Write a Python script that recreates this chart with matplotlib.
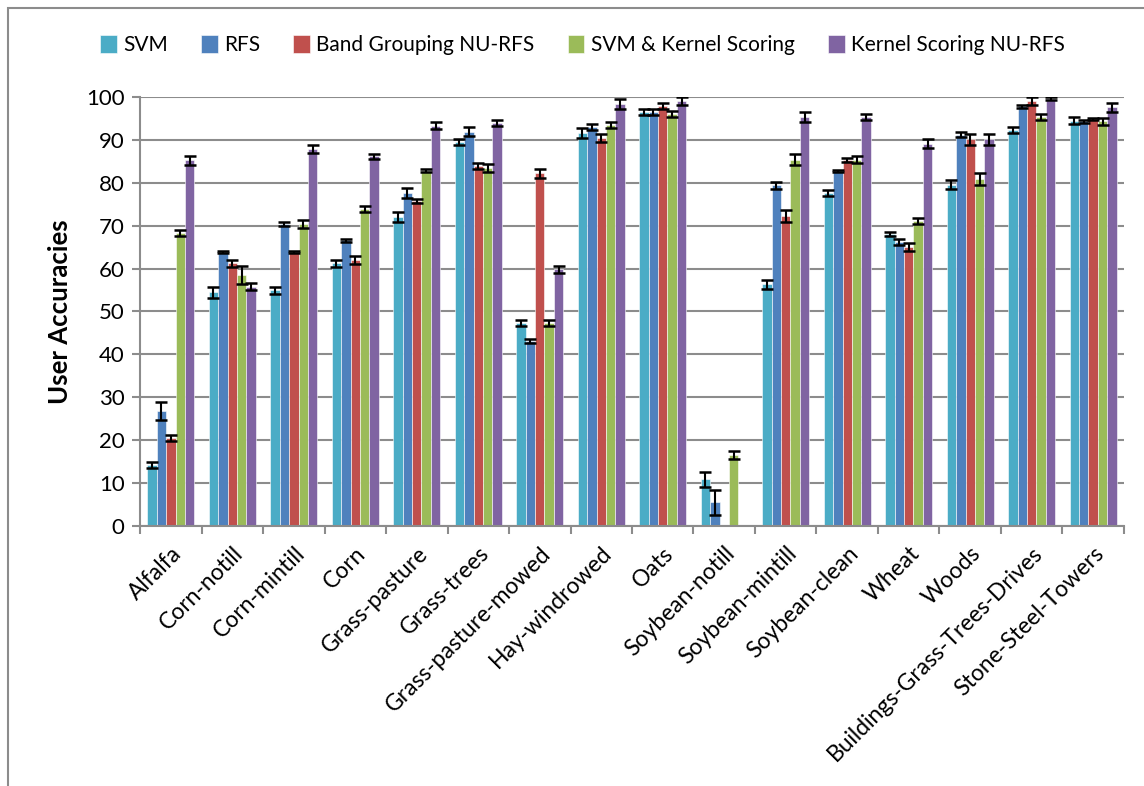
import numpy as np
import matplotlib
matplotlib.use('Agg')
import matplotlib.pyplot as plt
from matplotlib.patches import Rectangle

plt.rcParams['font.family'] = ['Lato', 'DejaVu Sans']

classes = ['Alfalfa', 'Corn-notill', 'Corn-mintill', 'Corn', 'Grass-pasture',
           'Grass-trees', 'Grass-pasture-mowed', 'Hay-windrowed', 'Oats',
           'Soybean-notill', 'Soybean-mintill', 'Soybean-clean', 'Wheat',
           'Woods', 'Buildings-Grass-Trees-Drives', 'Stone-Steel-Towers']

svm = [14.3, 54.5, 54.9, 61.2, 72.0, 89.4, 47.4, 91.6, 96.4, 10.9, 56.3, 77.7, 68.0, 79.6, 92.2, 94.5]
svm_err = [0.7, 1.3, 0.9, 0.9, 1.1, 0.7, 0.7, 1.1, 0.7, 1.7, 1.0, 0.7, 0.5, 1.1, 0.7, 0.9]

rfs = [26.8, 63.9, 70.4, 66.6, 77.7, 91.9, 43.1, 93.0, 96.4, 5.5, 79.4, 82.7, 66.2, 91.2, 97.8, 94.3]
rfs_err = [2.0, 0.3, 0.4, 0.3, 1.2, 1.0, 0.4, 0.7, 0.7, 2.9, 0.8, 0.3, 0.7, 0.6, 0.3, 0.3]

bg_nurfs = [20.6, 61.2, 63.9, 62.0, 75.7, 84.0, 82.2, 90.5, 98.0, 0.0, 72.2, 85.3, 65.1, 90.1, 99.0, 94.9]
bg_nurfs_err = [0.7, 0.8, 0.3, 0.9, 0.5, 0.7, 1.0, 0.9, 0.7, 0.0, 1.4, 0.4, 0.9, 1.3, 0.9, 0.3]

svm_ks = [68.3, 58.5, 70.4, 73.8, 82.8, 83.4, 47.4, 93.5, 96.1, 16.5, 85.4, 85.4, 71.1, 80.8, 95.3, 94.3]
svm_ks_err = [0.6, 2.0, 1.0, 0.7, 0.3, 1.0, 0.7, 0.7, 0.7, 0.9, 1.2, 0.9, 0.7, 1.4, 0.7, 0.8]

ks_nurfs = [85.2, 55.8, 87.9, 86.2, 93.3, 94.0, 59.8, 98.4, 99.0, 0.0, 95.3, 95.3, 89.1, 90.1, 99.6, 97.6]
ks_nurfs_err = [1.0, 0.9, 0.9, 0.6, 0.8, 0.7, 0.9, 1.2, 0.9, 0.0, 1.1, 0.7, 1.0, 1.3, 0.3, 1.0]

series = [
    ('SVM', svm, svm_err, '#4BACC6'),
    ('RFS', rfs, rfs_err, '#4F81BD'),
    ('Band Grouping NU-RFS', bg_nurfs, bg_nurfs_err, '#C0504D'),
    ('SVM & Kernel Scoring', svm_ks, svm_ks_err, '#9BBB59'),
    ('Kernel Scoring NU-RFS', ks_nurfs, ks_nurfs_err, '#8064A2'),
]

GRID = '#8C8C8C'

fig = plt.figure(figsize=(11.44, 7.86), dpi=100)
# outer chart frame (runs off the right and bottom edges)
fig.patches.append(Rectangle((8 / 1144, -0.1), 1.2, 1 - 8 / 786 + 0.1,
                             transform=fig.transFigure, fill=False,
                             edgecolor=GRID, linewidth=1.5))

ax = fig.add_axes([0.1224, 0.3308, 0.8601, 0.5458])

x = np.arange(len(classes))
width = 0.154
for i, (name, vals, errs, color) in enumerate(series):
    pos = x + (i - 2) * width
    vals = np.array(vals)
    errs = np.array(errs)
    ax.bar(pos, vals, width, color=color, edgecolor='white', linewidth=0.4,
           label=name, zorder=2)
    has = vals > 0
    ax.errorbar(pos[has], vals[has], yerr=errs[has], fmt='none', ecolor='black',
                elinewidth=1.5, capsize=4, capthick=1.8, zorder=3)

ax.set_xlim(-0.5, len(classes) - 0.5)
ax.set_ylim(0, 100)
ax.set_yticks(np.arange(0, 101, 10))
ax.yaxis.grid(True, color=GRID, linewidth=1.5, zorder=0)
ax.set_axisbelow(True)

# category ticks sit between groups, labels at group centres
ax.set_xticks(np.arange(-0.5, len(classes), 1.0))
ax.set_xticklabels([])
ax.set_xticks(x, minor=True)
ax.set_xticklabels(classes, minor=True, rotation=45, ha='right',
                   rotation_mode='anchor', fontsize=16.5)
ax.tick_params(axis='x', which='major', length=6, width=1.5, color=GRID)
ax.tick_params(axis='x', which='minor', length=0, pad=12)
ax.tick_params(axis='y', length=6, width=1.5, color=GRID, labelsize=16, pad=5)

for side in ['top', 'right']:
    ax.spines[side].set_visible(False)
for side in ['left', 'bottom']:
    ax.spines[side].set_color(GRID)
    ax.spines[side].set_linewidth(1.5)

ax.set_ylabel('User Accuracies', fontsize=18.5, fontweight='bold', labelpad=10)

fig.legend(loc='center', bbox_to_anchor=(0.509, 0.943), ncol=5, frameon=False,
           fontsize=15, handlelength=0.8, handleheight=1.0, handletextpad=0.3,
           columnspacing=1.6)

fig.savefig('out.png', dpi=100)
